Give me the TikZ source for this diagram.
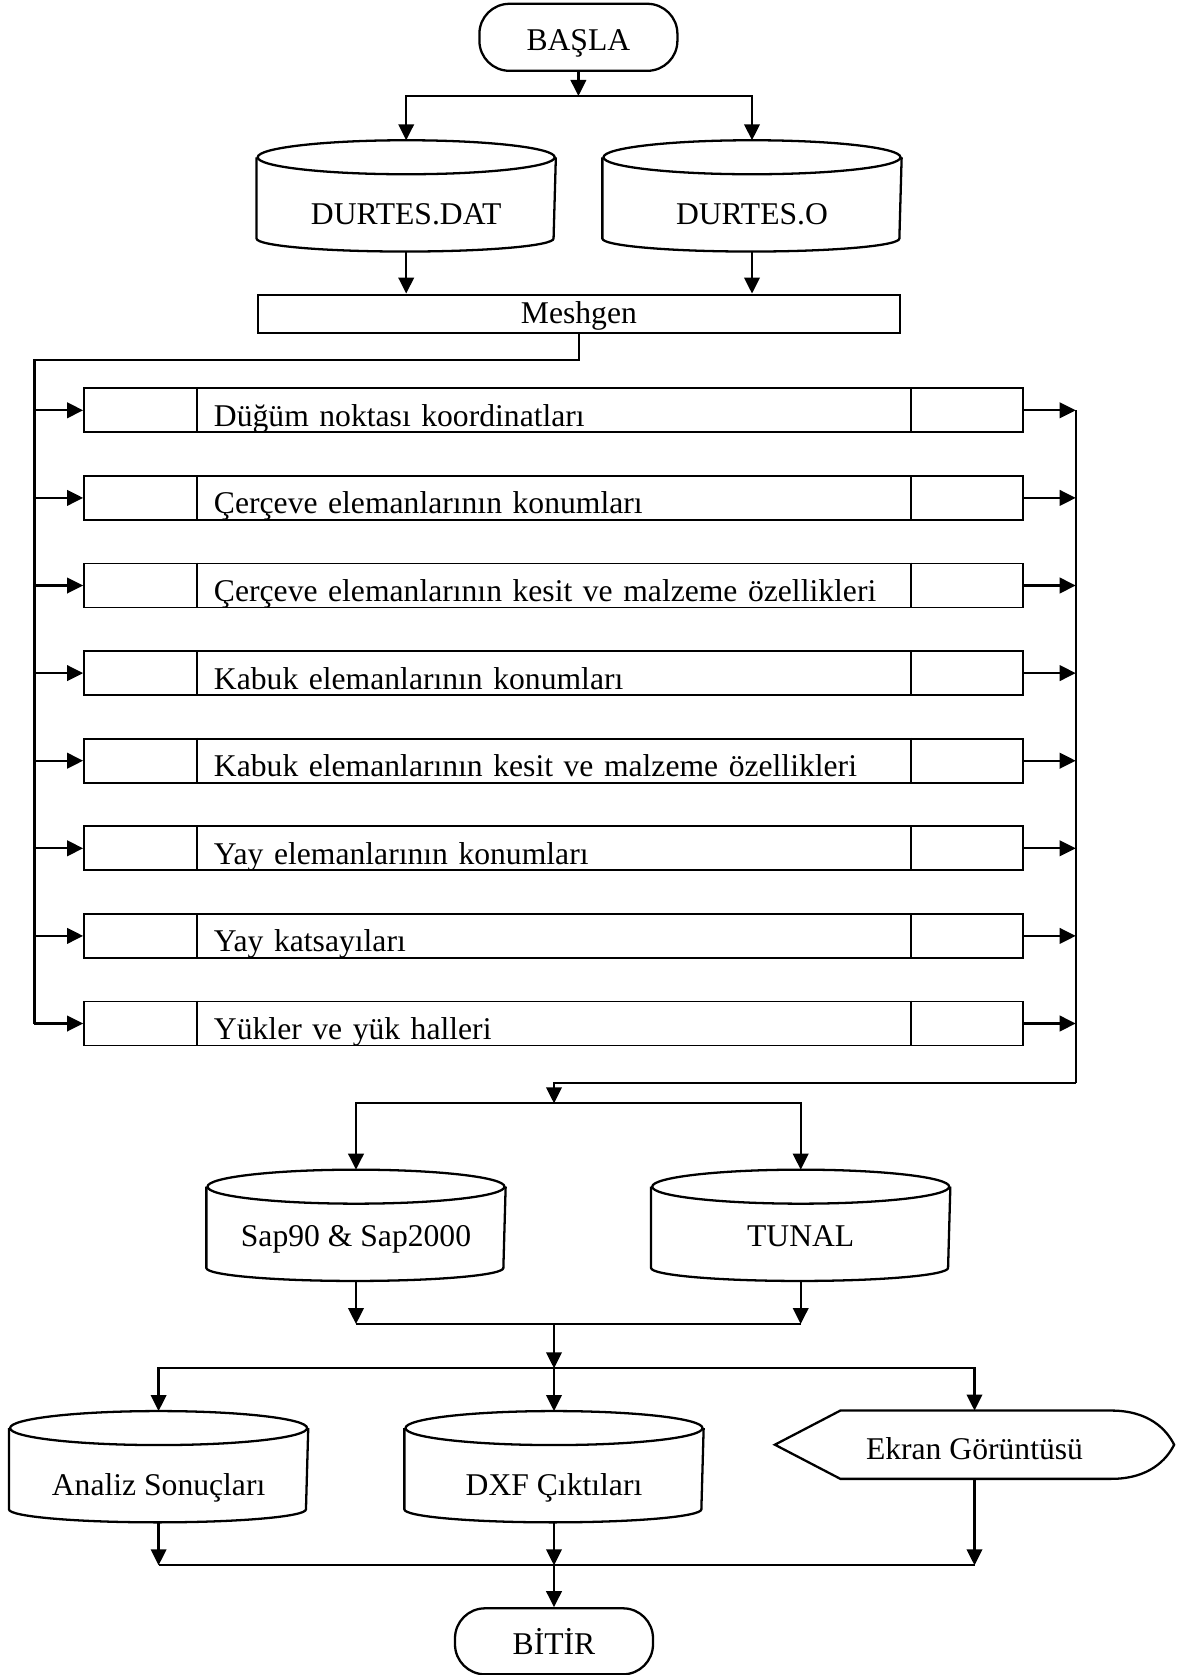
\documentclass[tikz,border=0pt]{standalone}
\usepackage{fontspec}
\setmainfont{Liberation Serif}
\usetikzlibrary{arrows.meta}

\begin{document}
\begin{tikzpicture}[x=0.2mm, y=-0.2mm, line width=1.3pt,
    font=\fontsize{18}{21}\selectfont,
    arr/.style={-{Triangle[length=3.2mm,width=3.1mm]}},
    term/.style={draw, rounded corners=6mm, minimum width=39.6mm, minimum height=13.4mm, inner sep=0pt,
        text height=5.4mm, text depth=0pt},
    drum/.style={minimum width=59.4mm, minimum height=21.8mm, inner sep=0pt, text height=11.6mm, text depth=0pt},
    rowbox/.style={draw, line width=1pt, minimum width=187.8mm, minimum height=8.8mm, inner xsep=26mm, inner ysep=0pt,
        text width=135.8mm, align=left, text height=6.4mm, text depth=0pt},
    screen/.style={minimum width=79.4mm, minimum height=13.2mm, inner sep=0pt, text height=6.1mm, text depth=0pt}]
    \useasboundingbox (0,0) rectangle (1184,1675);

        \node[term] (start) at (578.4,37.3) {BAŞLA};
        \node[drum] (dat) at (406.2,195.9) {DURTES.DAT};
        \node[drum] (obj) at (752,195.9) {DURTES.O};
        \node[draw, minimum width=128.5mm, minimum height=7.6mm, inner sep=0pt, text height=4mm, text depth=0pt]
            (mesh) at (578.9,313.7) {Meshgen};

        % data blocks
        \foreach \t [count=\i] in {Düğüm noktası koordinatları, Çerçeve elemanlarının konumları,
            Çerçeve elemanlarının kesit ve malzeme özellikleri, Kabuk elemanlarının konumları,
            Kabuk elemanlarının kesit ve malzeme özellikleri, Yay elemanlarının konumları,
            Yay katsayıları, Yükler ve yük halleri}
            \node[rowbox] (r\i) at (553.5,{410.3+87.6*(\i-1)}) {\t};
        \foreach \i in {1,...,8} {
            \draw[line width=1pt] ([xshift=22.8mm]r\i.north west) -- ([xshift=22.8mm]r\i.south west);
            \draw[line width=1pt] ([xshift=-22.6mm]r\i.north east) -- ([xshift=-22.6mm]r\i.south east);
        }

        \node[drum, text height=8.6mm] (sap) at (356,1225.3) {Sap90 \& Sap2000};
        \node[drum, text height=8.6mm] (tunal) at (800.7,1225.3) {TUNAL};
        \node[drum] (res) at (158.6,1466.7) {Analiz Sonuçları};
        \node[drum] (dxf) at (554,1466.7) {DXF Çıktıları};
        \node[screen] (scr) at (974.5,1444.7) {Ekran Görüntüsü};
        \node[term, minimum height=13.2mm] (stop) at (554,1641.3) {BİTİR};

        % outlines of the stores and the display
        \foreach \n in {dat,obj,sap,tunal,res,dxf} {
            \draw ([yshift=-3.4mm]\n.north west) -- ([yshift=2.6mm]\n.south west)
                arc[start angle=180, end angle=360, x radius=29.7mm, y radius=2.6mm]
                -- ([yshift=-3.4mm]\n.north east);
            \draw ([yshift=-3.4mm]\n.north) ellipse [x radius=29.7mm, y radius=3.4mm];
        }
        \draw (scr.west) -- ([xshift=13.1mm]scr.north west) -- ([xshift=-12.6mm]scr.north east)
            .. controls ([xshift=-5mm]scr.north east) and ([xshift=-1.5mm,yshift=3mm]scr.east) .. (scr.east)
            .. controls ([xshift=-1.5mm,yshift=-3mm]scr.east) and ([xshift=-5mm]scr.south east) .. ([xshift=-12.6mm]scr.south east)
            -- ([xshift=13.1mm]scr.south west) -- cycle;

        \coordinate (j1) at (578.4,96);
        \coordinate (lbus) at (34.4,360);
        \coordinate (rbus) at (1075.7,1083.3);
        \coordinate (j2) at (554,1103.3);
        \coordinate (j3) at (554,1324);
        \coordinate (j4) at (554,1368.3);
        \coordinate (j5) at (554,1565.3);

        % draw the arrows
        \draw[arr] (start) -- (j1);
        \draw[arr] (j1) -| (dat.north);
        \draw[arr] (j1) -| (obj.north);
        \draw[arr] (dat.south) -- (dat.south |- mesh.north);
        \draw[arr] (obj.south) -- (obj.south |- mesh.north);
        \draw (mesh.south) |- (lbus) -- (lbus |- r8.west);
        \foreach \i in {1,...,8} {
            \draw[arr] (lbus |- r\i.west) -- (r\i.west);
            \draw[arr] (r\i.east) -- (rbus |- r\i.east);
        }
        \draw (rbus |- r1.east) -- (rbus);
        \draw[arr] (rbus) -| (j2);
        \draw[arr] (j2) -| (sap.north);
        \draw[arr] (j2) -| (tunal.north);
        \draw[arr] (sap.south) -- (sap.south |- j3);
        \draw[arr] (tunal.south) -- (tunal.south |- j3);
        \draw (sap.south |- j3) -- (tunal.south |- j3);
        \draw[arr] (j3) -- (j4);
        \draw[arr] (j4) -| (res.north);
        \draw[arr] (j4) -- (dxf.north);
        \draw[arr] (j4) -| (scr.north);
        \draw[arr] (res.south) -- (res.south |- j5);
        \draw[arr] (dxf.south) -- (j5);
        \draw[arr] (scr.south) -- (scr.south |- j5);
        \draw (res.south |- j5) -- (scr.south |- j5);
        \draw[arr] (j5) -- (stop.north);

\end{tikzpicture}
\end{document}
